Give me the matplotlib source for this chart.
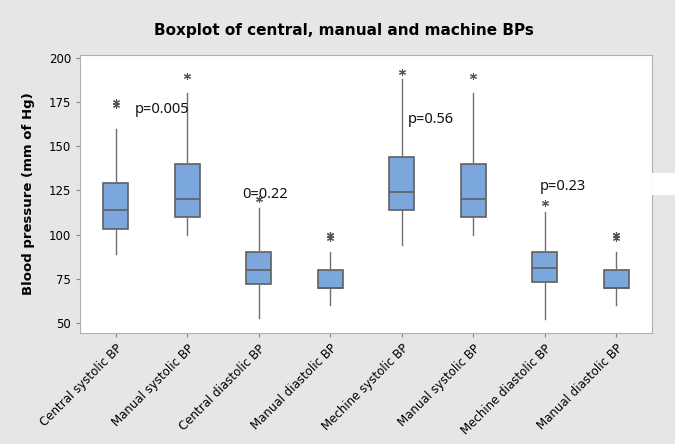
import matplotlib
matplotlib.use("Agg")
import matplotlib.pyplot as plt
from matplotlib.patches import Rectangle

# summary values (mm of Hg)
labels = ["Central systolic BP", "Manual systolic BP", "Central diastolic BP",
          "Manual diastolic BP", "Mechine systolic BP", "Manual systolic BP",
          "Mechine diastolic BP", "Manual diastolic BP"]
whislo = [89, 100, 53, 60, 94, 100, 52, 60]
q1 = [103, 110, 72, 70, 114, 110, 73, 70]
med = [114, 120, 80, 70, 124, 120, 81, 70]
q3 = [129, 140, 90, 80, 144, 140, 90, 80]
whishi = [160, 180, 115, 90, 188, 180, 113, 90]
fliers = [[175, 173.5], [190], [120], [100, 98, 100],
          [192], [190], [118], [100, 98, 100]]

# p-value annotations
p_text = ["p=0.005", "0=0.22", "p=0.56", "p=0.23"]
p_x = [1.27, 2.77, 5.08, 6.93]
p_y = [171, 122.5, 165, 127.5]

bg = "#e6e6e6"
fig = plt.figure(figsize=(6.75, 4.44), dpi=100, facecolor=bg)
ax = fig.add_axes([0.1185, 0.25, 0.8475, 0.626])
ax.set_facecolor("white")

stats = []
for i in range(len(labels)):
    stats.append(dict(whislo=whislo[i], q1=q1[i], med=med[i], q3=q3[i],
                      whishi=whishi[i], fliers=fliers[i], label=labels[i]))

ax.bxp(stats, positions=range(1, 9), widths=0.35, patch_artist=True,
       showcaps=False,
       boxprops=dict(facecolor="#7ba7dc", edgecolor="#606060", linewidth=1.2),
       medianprops=dict(color="#606060", linewidth=1.2),
       whiskerprops=dict(color="#707070", linewidth=1.0),
       flierprops=dict(marker=(6, 2, 0), markersize=5, markeredgecolor="#555555",
                       markeredgewidth=0.8, linestyle="none"))

for t, x, y in zip(p_text, p_x, p_y):
    ax.text(x, y, t, fontsize=10.5, family="Noto Sans", color="#111111",
            va="center", ha="left")

ax.set_xlim(0.5, 8.5)
ax.set_ylim(44.3, 201.7)
ax.set_yticks([50, 75, 100, 125, 150, 175, 200])
ax.tick_params(axis="y", labelsize=8.5, color="#888888", length=3)
ax.tick_params(axis="x", color="#888888", length=3)
ax.set_xticklabels(labels, rotation=45, ha="right", rotation_mode="anchor",
                   fontsize=8.5)
for s in ax.spines.values():
    s.set_color("#b0b0b0")
    s.set_linewidth(0.8)

ax.set_ylabel("Blood pressure (mm of Hg)", fontsize=9.5, fontweight="bold")
ax.yaxis.set_label_coords(-0.078, 0.5)
fig.text(0.51, 0.932, "Boxplot of central, manual and machine BPs",
         ha="center", va="center", fontsize=11, fontweight="semibold")

# white strip sticking out to the right of the plot area
fig.add_artist(Rectangle((0.966, 0.561), 0.034, 0.049, transform=fig.transFigure,
                         facecolor="white", edgecolor="none"))

fig.savefig("out.png", dpi=100, facecolor=bg)
